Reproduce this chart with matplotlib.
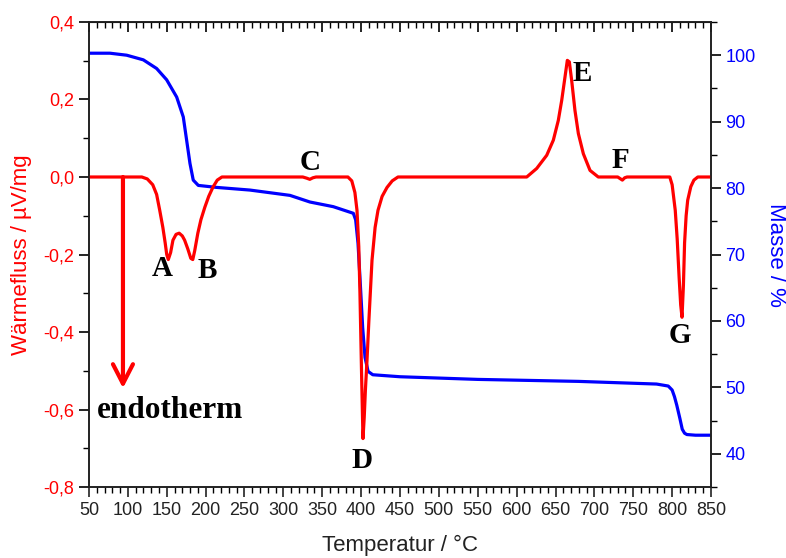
import matplotlib
matplotlib.use("Agg")
import matplotlib.pyplot as plt
from matplotlib.ticker import MultipleLocator, FuncFormatter

# DSC curve (heat flow)
dsc_temp = [50, 118, 125, 132, 137, 141, 145, 148, 150, 152, 155, 158, 162, 166, 170, 173,
            177, 181, 183.5, 186, 190, 194, 199, 204, 209.5, 215, 221,
            325, 330, 334, 338, 342,
            383, 388, 392, 394.7, 397, 398.5, 400.5, 402.4, 404, 405.5, 407.6, 410, 414,
            418, 421.7, 427, 433.3, 440, 447.4,
            613, 625.8, 638.7, 647.2, 653.6, 658, 662.2, 665.2, 667.8, 670.8, 675, 679.4,
            685.8, 694.4, 705,
            730, 733, 736, 739, 742,
            797, 800, 804, 806.5, 809, 811, 812.7, 814.5, 816, 818, 820, 824, 828, 833, 850]
dsc_flow = [0, 0, -0.005, -0.02, -0.045, -0.086, -0.13, -0.17, -0.2, -0.213, -0.195, -0.163,
            -0.148, -0.145, -0.152, -0.163, -0.185, -0.21, -0.213, -0.19, -0.145, -0.11,
            -0.078, -0.05, -0.026, -0.008, 0,
            0, -0.003, -0.006, -0.002, 0,
            0, -0.01, -0.04, -0.086, -0.18, -0.30, -0.5, -0.675, -0.62, -0.55, -0.472,
            -0.37, -0.215, -0.13, -0.086, -0.05, -0.027, -0.01, 0,
            0, 0.022, 0.056, 0.095, 0.146, 0.198, 0.258, 0.301, 0.297, 0.249, 0.172,
            0.112, 0.060, 0.017, 0,
            0, -0.004, -0.008, -0.002, 0,
            0, -0.02, -0.086, -0.16, -0.26, -0.33, -0.362, -0.28, -0.17, -0.1, -0.06,
            -0.025, -0.008, 0, 0]

# TG curve (mass)
tg_temp = [50, 77, 98.5, 119.9, 137, 149.9, 162.8, 171.3, 175.6, 179.9, 184.1, 190.6,
           214.2, 257, 308.5, 334.2, 347.1, 364.2, 390, 393, 396, 399, 402, 405, 409,
           415, 450, 550, 680, 780, 795, 800, 803, 806, 810, 813, 816, 819, 830, 850]
tg_mass = [100.3, 100.3, 100.0, 99.3, 98.0, 96.3, 93.7, 90.7, 87.2, 83.7, 81.2, 80.4,
           80.1, 79.7, 78.9, 77.9, 77.6, 77.2, 76.2, 75.2, 71.7, 65.5, 59.0, 54.5, 52.4,
           51.9, 51.6, 51.2, 50.9, 50.5, 50.2, 49.6, 48.6, 47.3, 45.3, 43.7, 43.1, 42.9,
           42.8, 42.8]

# peak labels
peak_names = ["A", "B", "C", "D", "E", "F", "G"]
peak_x = [143.9, 201.8, 334.2, 401.1, 684.1, 733, 810.1]
peak_y = [-0.236, -0.241, 0.038, -0.731, 0.268, 0.043, -0.409]

plt.rcParams['font.family'] = ['Liberation Sans', 'DejaVu Sans']

fig = plt.figure(figsize=(7.86, 5.58), dpi=100)
ax = fig.add_axes([0.1132, 0.1272, 0.7914, 0.8334])
ax2 = ax.twinx()
ax.set_zorder(ax2.get_zorder() + 1)
ax.patch.set_visible(False)

ax2.plot(tg_temp, tg_mass, color='#0000ff', lw=2.3)
ax.plot(dsc_temp, dsc_flow, color='#ff0000', lw=2.3)

ax.set_xlim(50, 850)
ax.set_ylim(-0.8, 0.4)
ax2.set_ylim(35, 105)

# x axis
ax.xaxis.set_major_locator(MultipleLocator(50))
ax.xaxis.set_minor_locator(MultipleLocator(10))
ax.tick_params(axis='x', which='major', direction='out', length=7, width=1.2,
               labelsize=13, colors='#222222')
ax.tick_params(axis='x', which='minor', direction='out', length=4, width=1.0)
ax.set_xlabel('Temperatur / °C', fontsize=16, color='#222222', labelpad=12)

top = ax.secondary_xaxis('top')
top.xaxis.set_major_locator(MultipleLocator(50))
top.xaxis.set_minor_locator(MultipleLocator(10))
top.tick_params(axis='x', which='major', direction='in', length=7, width=1.2, labeltop=False)
top.tick_params(axis='x', which='minor', direction='in', length=4, width=1.0)

# left axis
ax.yaxis.set_major_locator(MultipleLocator(0.2))
ax.yaxis.set_minor_locator(MultipleLocator(0.1))
ax.yaxis.set_major_formatter(FuncFormatter(lambda v, p: f"{v:.1f}".replace('.', ',')))
ax.tick_params(axis='y', which='major', direction='out', length=7, width=1.2,
               labelsize=13, labelcolor='#ff0000')
ax.tick_params(axis='y', which='minor', direction='out', length=4, width=1.0)
ax.set_ylabel('Wärmefluss / µV/mg', fontsize=16, color='#ff0000', labelpad=8)

# right axis
ax2.yaxis.set_major_locator(MultipleLocator(10))
ax2.yaxis.set_minor_locator(MultipleLocator(5))
ax2.set_yticks([40, 50, 60, 70, 80, 90, 100])
ax2.tick_params(axis='y', which='major', direction='out', length=7, width=1.2,
                labelsize=13, labelcolor='#0000ff')
ax2.tick_params(axis='y', which='minor', direction='out', length=4, width=1.0)
ax2.set_ylabel('Masse / %', fontsize=16, color='#0000ff', rotation=270, labelpad=22)

for a in (ax, ax2):
    for s in a.spines.values():
        s.set_linewidth(1.2)
        s.set_color('#222222')

# endotherm arrow
ax.annotate('', xy=(93.7, -0.545), xytext=(93.7, 0.0),
            arrowprops=dict(arrowstyle='->,head_length=0.7,head_width=0.36',
                            color='#ff0000', lw=3, mutation_scale=20,
                            shrinkA=0, shrinkB=0))
ax.text(154.2, -0.603, 'endotherm', fontsize=22.5, fontweight='bold',
        family='Liberation Serif', ha='center', va='center')

for name, px, py in zip(peak_names, peak_x, peak_y):
    ax.text(px, py, name, fontsize=21, fontweight='bold', family='Liberation Serif',
            ha='center', va='center')

fig.savefig('out.png', dpi=100)
